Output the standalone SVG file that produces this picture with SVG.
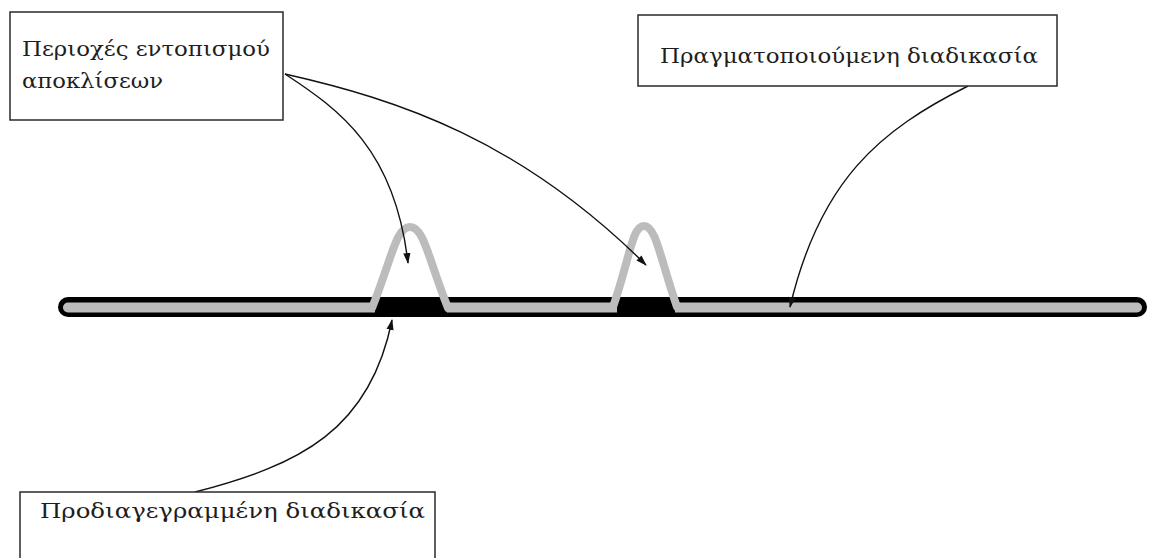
<svg xmlns="http://www.w3.org/2000/svg" width="1149" height="558" viewBox="0 0 1149 558">
<style>
.box{fill:#fff;stroke:#2a2a2a;stroke-width:1.5}
.lbl{font-family:"DejaVu Serif","Liberation Serif",serif;font-size:19.5px;fill:#1e1e1e}
.conn{fill:none;stroke:#111;stroke-width:1.4}
.bump{fill:none;stroke:#bcbcbc;stroke-width:8;stroke-linecap:round;stroke-linejoin:round}
</style>
<defs>
<marker id="ah" viewBox="0 0 12 10" refX="11" refY="5" markerWidth="11" markerHeight="9" markerUnits="userSpaceOnUse" orient="auto">
<path d="M0,1 L12,5 L0,9 Z" fill="#111"/>
</marker>
</defs>
<rect width="1149" height="558" fill="#fff"/>
<g id="process-bar">
<line x1="68" y1="307" x2="1137" y2="307" stroke="#000" stroke-width="20" stroke-linecap="round"/>
<line x1="68" y1="307.5" x2="1137" y2="307.5" stroke="#bcbcbc" stroke-width="10" stroke-linecap="round"/>
<rect x="375" y="297" width="72" height="20" fill="#000"/>
<rect x="617" y="297" width="58" height="20" fill="#000"/>
<path class="bump" d="M372,308 C392,258 396,227 410,227 C424,227 428,258 448,308"/>
<path class="bump" d="M613,307 C630,258 632,226 644,226 C656,226 660,258 677,307"/>
</g>
<g id="connectors">
<path class="conn" d="M285,74 C340,110 395,150 408,263" marker-end="url(#ah)"/>
<path class="conn" d="M285,74 C400,100 520,140 646,265" marker-end="url(#ah)"/>
<path class="conn" d="M968,86 C880,130 820,180 790,307" marker-end="url(#ah)"/>
<path class="conn" d="M195,492 C300,465 370,430 392,320" marker-end="url(#ah)"/>
</g>
<g id="node-deviations">
<rect class="box" x="10" y="12" width="273" height="108"/>
<text class="lbl" x="22" y="56" textLength="248" lengthAdjust="spacingAndGlyphs">Περιοχές εντοπισμού</text>
<text class="lbl" x="22" y="88" textLength="141" lengthAdjust="spacingAndGlyphs">αποκλίσεων</text>
</g>
<g id="node-actual">
<rect class="box" x="638" y="15" width="419" height="71"/>
<text class="lbl" x="660" y="63" textLength="378" lengthAdjust="spacingAndGlyphs">Πραγματοποιούμενη διαδικασία</text>
</g>
<g id="node-specified">
<rect class="box" x="20" y="492" width="415" height="90"/>
<text class="lbl" x="40" y="518" textLength="385" lengthAdjust="spacingAndGlyphs">Προδιαγεγραμμένη διαδικασία</text>
</g>
</svg>
